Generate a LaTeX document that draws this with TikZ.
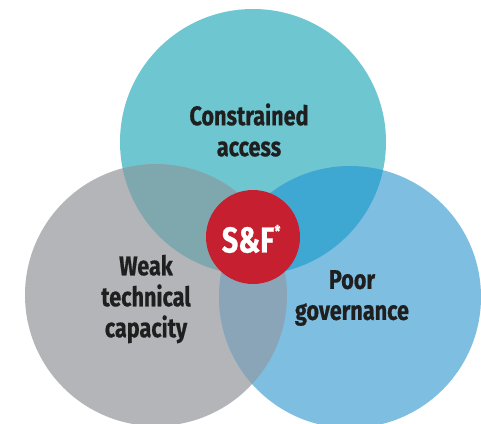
\documentclass[tikz,border=0pt]{standalone}
\usepackage{fontspec}
\setmainfont{Fira Sans}[FakeStretch=0.8,FakeBold=0.6]
\begin{document}
\begin{tikzpicture}[x=1pt,y=-1pt,
  lbl/.style={font=\bfseries\fontsize{27}{31}\selectfont, text=black!88, align=center, inner sep=0pt}]
\definecolor{cTop}{HTML}{6EC6D1}
\definecolor{cLeft}{HTML}{B3B5B8}
\definecolor{cRight}{HTML}{7EBEE0}
\definecolor{cTL}{HTML}{7FA8AE}
\definecolor{cTR}{HTML}{3EA8D2}
\definecolor{cLR}{HTML}{8BA5B8}
\definecolor{cRed}{HTML}{C62030}
\useasboundingbox (0,0) rectangle (481,423);
\fill[white] (0,0) rectangle (481,423);
\coordinate (T) at (253,142);
\coordinate (L) at (156,295);
\coordinate (R) at (350,297);
\def\rT{133}\def\rL{131}\def\rR{131}
\fill[cTop] (T) circle (\rT);
\fill[cLeft] (L) circle (\rL);
\fill[cRight] (R) circle (\rR);
\begin{scope}
  \clip (T) circle (\rT);
  \fill[cTL] (L) circle (\rL);
  \fill[cTR] (R) circle (\rR);
\end{scope}
\begin{scope}
  \clip (L) circle (\rL);
  \fill[cLR] (R) circle (\rR);
\end{scope}
\node[circle, fill=cRed, minimum size=94, inner sep=0pt] (SF) at (253,237) {};
\node[font=\bfseries\fontsize{36}{36}\selectfont, text=white, inner sep=0pt] (sft) at (248,240) {S\&F};
\node[font=\bfseries\fontsize{16}{16}\selectfont, text=white, inner sep=0pt, anchor=north west] (ast) at ([yshift=2]sft.north east) {*};
\node[lbl] (ca) at (249,130) {Constrained\\access};
\node[lbl] (wt) at (146,299) {Weak\\technical\\capacity};
\node[lbl] (pg) at (352,298) {Poor\\governance};
\end{tikzpicture}
\end{document}
